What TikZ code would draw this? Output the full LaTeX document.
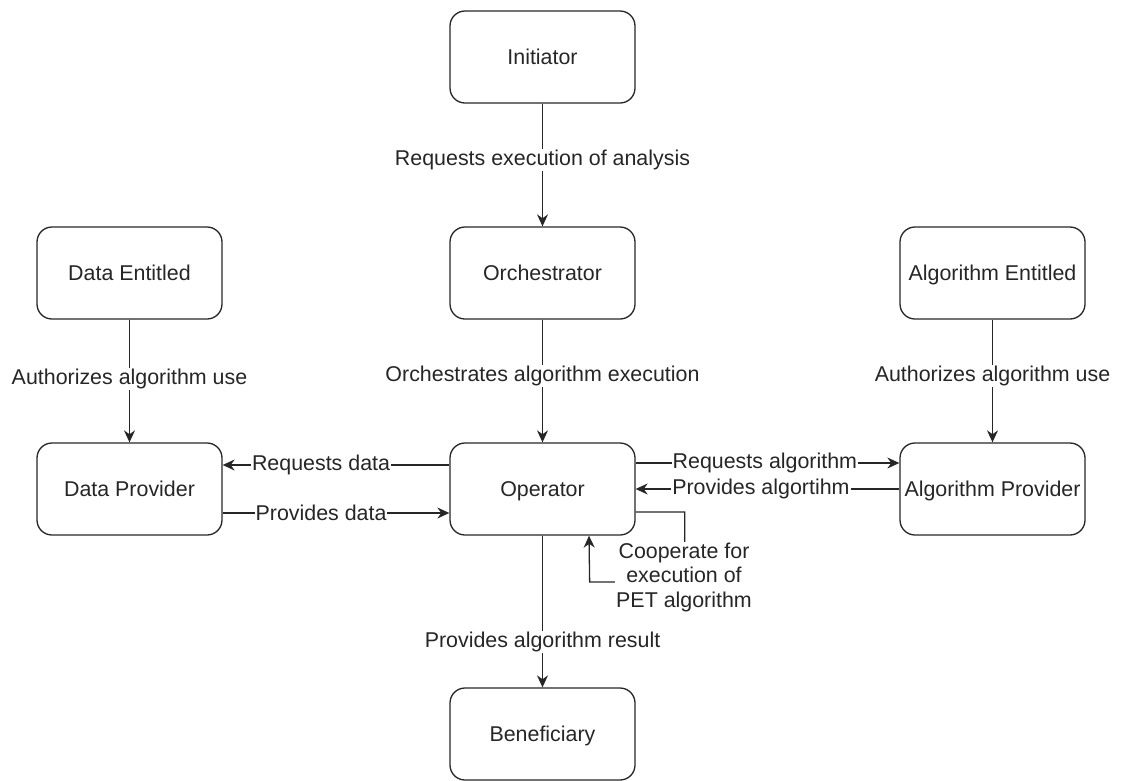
\documentclass[tikz,border=0pt]{standalone}
\usepackage{fontspec}
\setmainfont{Liberation Sans}
\usetikzlibrary{arrows.meta}

\begin{document}
\begin{tikzpicture}[x=1pt, y=-1pt,
  every node/.style={font=\fontsize{21.4}{24.5}\selectfont, text=black!85},
  role/.style={draw=black!85, rounded corners=15pt, minimum width=185pt, minimum height=92pt,
    text height=18pt, text depth=3pt, line width=1.3pt},
  flow/.style={draw=black!85, line width=1.3pt, -{Stealth[length=12pt,width=11pt]}},
  lbl/.style={fill=white, inner sep=1pt}]

  \useasboundingbox (0,0) rectangle (1122,780);

  % roles
  \node[role] (init) at (542.5,57) {Initiator};
  \node[role] (orch) at (542.5,273) {Orchestrator};
  \node[role] (dent) at (129.5,273) {Data Entitled};
  \node[role] (aent) at (992.5,273) {Algorithm Entitled};
  \node[role] (dprov) at (129.5,489) {Data Provider};
  \node[role] (op) at (542.5,489) {Operator};
  \node[role] (aprov) at (992.5,489) {Algorithm Provider};
  \node[role] (ben) at (542.5,734) {Beneficiary};

  % vertical flows
  \draw[flow] (init) -- node[lbl, pos=0.46] {Requests execution of analysis} (orch);
  \draw[flow] (orch) -- node[lbl, pos=0.46] {Orchestrates algorithm execution} (op);
  \draw[flow] (dent) -- node[lbl, pos=0.48] {Authorizes algorithm use} (dprov);
  \draw[flow] (aent) -- node[lbl, pos=0.46] {Authorizes algorithm use} (aprov);
  \draw[flow] (op) -- node[lbl, pos=0.7] {Provides algorithm result} (ben);

  % data exchange
  \draw[flow] ([yshift=24pt]op.west) -- node[lbl, pos=0.566] {Requests data} ([yshift=24pt]dprov.east);
  \draw[flow] ([yshift=-24pt]dprov.east) -- node[lbl, pos=0.434] {Provides data} ([yshift=-24pt]op.west);

  % algorithm exchange
  \draw[flow] ([yshift=26pt]op.east) -- node[lbl, pos=0.49] {Requests algorithm} ([yshift=26pt]aprov.west);
  \draw[flow] (aprov) -- node[lbl, pos=0.525] {Provides algortihm} (op);

  % cooperation loop
  \draw[flow] ([yshift=-23pt]op.east) -- ++(49,0) -- ++(0,70) -- ++(-95,0) -- ([xshift=46.5pt]op.south);
  \node[lbl, align=center] (coop) at (684,577) {Cooperate for\\execution of\\PET algorithm};
\end{tikzpicture}
\end{document}
